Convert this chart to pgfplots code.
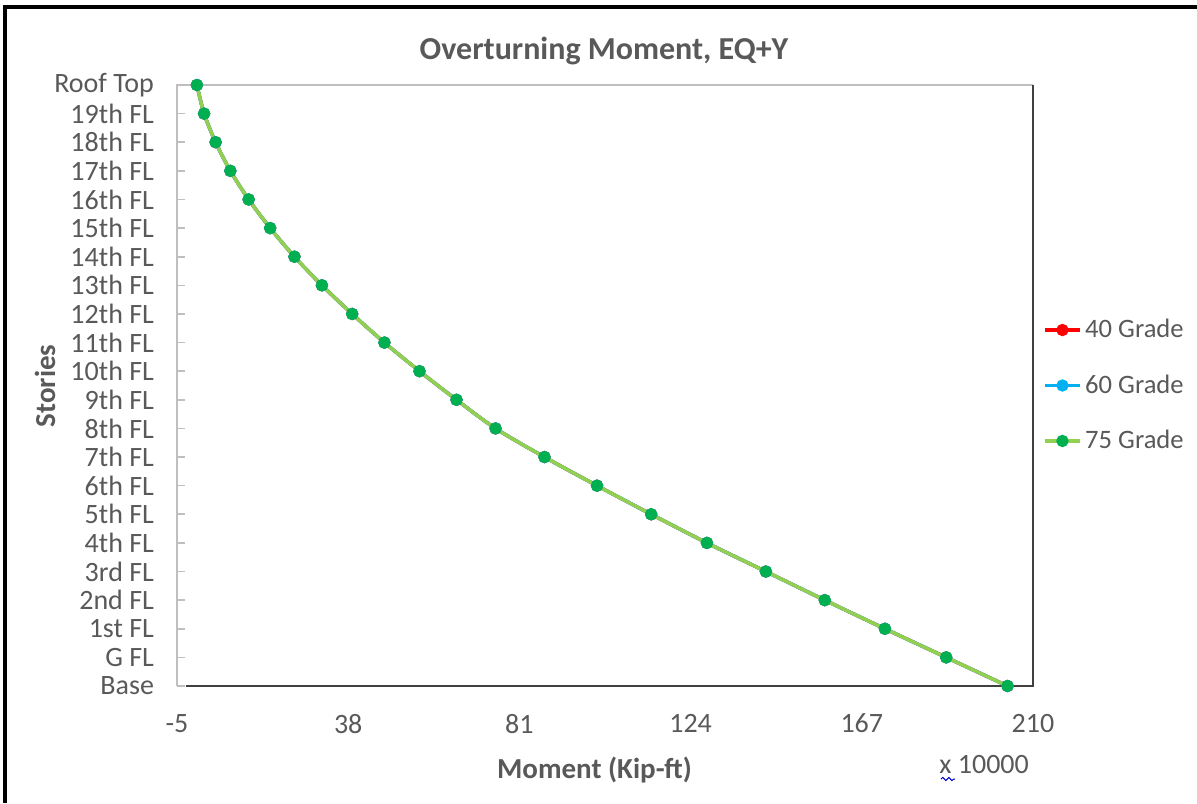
\documentclass[border=0pt]{standalone}
\usepackage{pgfplots}
\pgfplotsset{compat=1.18}
\usepackage{pgfplotstable}
\usepackage{fontspec}
\setmainfont{Carlito}
\usetikzlibrary{decorations.pathmorphing}

\definecolor{txt}{HTML}{595959}
\definecolor{gridgray}{HTML}{BFBFBF}
\definecolor{framedark}{HTML}{404040}
\definecolor{redline}{HTML}{FF0000}
\definecolor{blueline}{HTML}{00B0F0}
\definecolor{greenline}{HTML}{92D050}
\definecolor{greenmark}{HTML}{00B050}

% Overturning moment per level (x 10000 kip-ft); level 0 = Base ... 21 = Roof Top
\pgfplotstableread{
lvl moment
0   203.6
1   188.2
2   172.8
3   157.7
4   142.9
5   128.1
6   114.1
7   100.5
8   87.3
9   75.0
10  65.2
11  55.9
12  47.1
13  39.0
14  31.4
15  24.5
16  18.4
17  13.0
18  8.4
19  4.7
20  1.8
21  0.0
}\momentdata

\begin{document}
\begin{tikzpicture}[x=0.5pt,y=0.5pt]
\useasboundingbox (0,0) rectangle (1197,803);
% outer chart frame (top and left edges)
\draw[line width=1.6pt,black] (5,0) -- (5,796) -- (1197,796);

\begin{axis}[
  at={(88.5pt,58.5pt)}, anchor=south west,
  scale only axis, width=428pt, height=300.5pt,
  xmin=-5, xmax=210, ymin=0, ymax=21,
  axis line style={draw=none},
  xtick={-5,38,81,124,167,210},
  xticklabels={-5,38,81,124,167,210},
  ytick={0,...,21},
  yticklabels={Base,G FL,1st FL,2nd FL,3rd FL,4th FL,5th FL,6th FL,7th FL,8th FL,9th FL,10th FL,11th FL,12th FL,13th FL,14th FL,15th FL,16th FL,17th FL,18th FL,19th FL,Roof Top},
  ytick pos=left,
  tick align=inside,
  x tick style={draw=none},
  y tick style={gridgray, line width=0.8pt},
  major tick length=4.2pt,
  tick label style={font=\fontsize{14}{16}\selectfont, text=txt},
  xticklabel style={yshift=-10.5pt},
  yticklabel style={xshift=-8pt},
  legend style={at={(1.012,0.5)}, anchor=west, draw=none, fill=none,
    font=\fontsize{13.3}{15}\selectfont, text=txt, row sep=13pt,
    inner sep=0pt, nodes={inner sep=2pt}},
  legend cell align=left,
  clip=false,
]
\draw[gridgray, line width=0.8pt] (rel axis cs:0,0) -- (rel axis cs:0,1) -- (rel axis cs:1,1);
\draw[framedark, line width=1pt] (rel axis cs:0.01,0) -- (rel axis cs:1,0) -- (rel axis cs:1,1);

\addplot[redline, line width=1.7pt, smooth, mark=*, mark size=2.2pt,
  mark options={fill=redline, draw=redline}] table[x=moment, y=lvl] {\momentdata};
\addlegendentry{40 Grade}
\addplot[blueline, line width=1.7pt, smooth, mark=*, mark size=2.2pt,
  mark options={fill=blueline, draw=blueline}] table[x=moment, y=lvl] {\momentdata};
\addlegendentry{60 Grade}
\addplot[greenline, line width=1.7pt, smooth, mark=*, mark size=2.2pt,
  mark options={fill=greenmark, draw=greenmark}] table[x=moment, y=lvl] {\momentdata};
\addlegendentry{75 Grade}
\end{axis}

% titles and axis labels
\node[text=txt, font=\fontsize{16}{19}\selectfont\bfseries] at (604,752) {Overturning Moment, EQ+Y};
\node[text=txt, font=\fontsize{14.5}{17}\selectfont\bfseries] at (594.5,33) {Moment (Kip-ft)};
\node[text=txt, font=\fontsize{14.5}{17}\selectfont\bfseries, rotate=90] at (45,417) {Stories};
\node[text=txt, font=\fontsize{14}{16}\selectfont, anchor=west, inner sep=0pt] at (939,38) {x 10000};
\draw[blue!80!black, line width=0.5pt, decorate, decoration={snake, amplitude=0.8pt, segment length=3pt}] (941,24) -- (955,24);
\end{tikzpicture}
\end{document}
